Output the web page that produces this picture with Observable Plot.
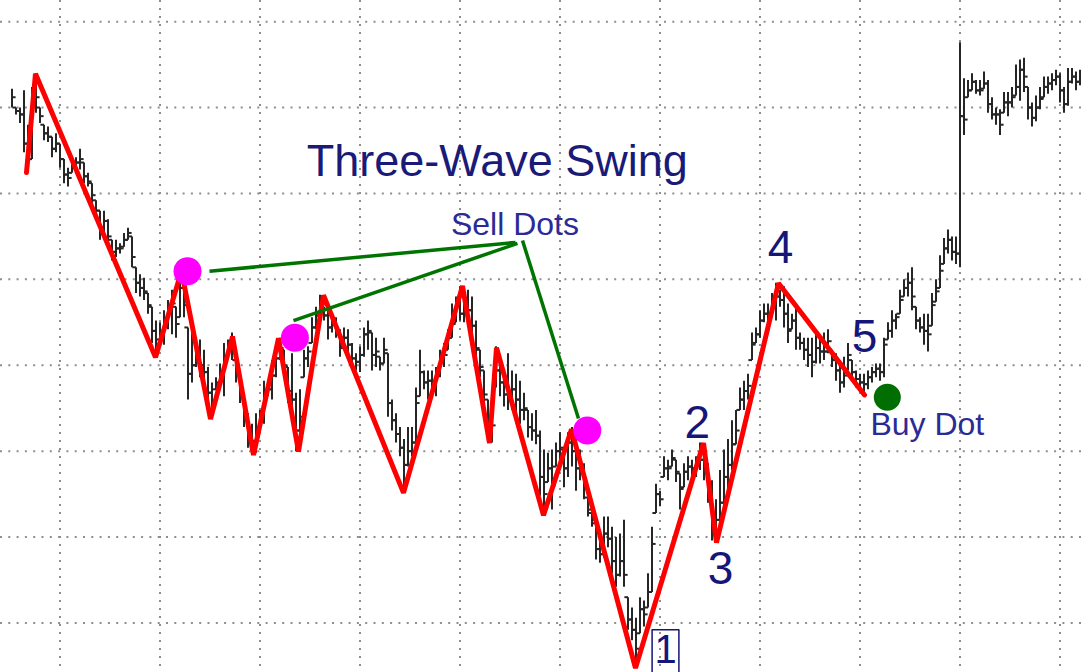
<!DOCTYPE html>
<html>
<head>
<meta charset="utf-8">
<script src="https://cdn.jsdelivr.net/npm/d3@7"></script>
<script src="https://cdn.jsdelivr.net/npm/@observablehq/plot@0.6"></script>
<style>
  html, body { margin: 0; padding: 0; background: #fff; overflow: hidden; }
  #chart svg { display: block; }
</style>
</head>
<body>
<div id="chart"></div>
<script>
// ---- price bars (one bar per session, index = position) ----
const high = [
76.1,75.0,75.0,76.0,74.0,76.2,77.0,75.0,74.0,73.9,
73.3,73.5,72.9,72.0,71.5,72.0,72.1,72.6,71.8,71.2,
70.6,69.6,69.0,69.0,68.5,67.3,67.3,67.1,67.7,68.0,
67.5,65.7,65.3,65.1,64.2,63.4,62.6,62.5,63.2,63.8,
64.4,63.4,65.5,64.8,62.2,61.9,61.6,61.5,60.9,59.9,
59.0,59.3,60.1,61.3,61.5,61.9,60.3,59.7,58.4,57.2,
56.6,57.2,57.4,59.1,59.0,60.3,61.1,61.6,60.9,59.9,
60.7,58.4,58.6,60.9,61.1,62.8,63.4,64.1,63.4,63.6,
63.0,62.8,62.1,62.2,62.1,61.3,60.7,61.1,62.2,62.6,
61.9,61.6,60.5,61.6,60.7,58.0,57.2,56.4,55.7,56.4,
56.4,58.7,60.9,59.7,59.7,59.7,59.9,60.9,61.3,62.1,
63.6,64.0,64.6,63.6,64.4,64.0,62.6,60.9,59.7,58.0,
57.0,61.1,60.1,59.3,60.7,59.7,59.5,59.1,58.4,57.4,
57.2,57.4,56.2,55.1,54.9,55.1,55.5,56.1,55.1,56.1,
56.4,55.7,55.1,54.3,52.3,51.4,50.8,49.8,51.2,51.2,
50.6,50.0,50.2,51.0,46.5,45.9,45.3,46.5,46.3,47.9,
50.6,53.1,52.7,54.7,54.5,55.1,54.5,53.7,54.3,54.7,
54.5,54.7,55.5,55.2,54.3,53.3,52.2,53.9,55.1,55.7,
56.8,57.4,58.7,59.1,59.5,61.9,62.2,63.2,63.6,63.6,
64.2,64.8,64.4,64.6,63.6,63.0,63.4,61.9,61.6,61.6,
61.6,61.9,61.6,61.9,62.1,60.9,60.7,60.3,60.5,61.3,
60.3,59.7,59.5,59.5,59.7,59.9,60.1,60.1,61.6,62.5,
63.2,63.0,64.4,65.0,65.4,65.7,63.4,62.8,63.0,63.0,
64.2,65.0,66.4,67.4,67.9,67.5,67.5,78.8,76.7,76.6,
77.0,76.6,76.6,77.1,76.6,75.6,75.0,74.9,75.9,75.9,
76.2,77.5,77.8,77.9,76.2,75.3,75.7,76.2,76.8,76.8,
77.0,77.2,77.0,76.2,77.3,77.3,77.1,77.2
];
const low = [
75.0,74.6,74.1,72.4,71.3,72.0,74.7,74.1,73.1,73.0,
72.1,72.4,71.5,70.6,70.4,71.2,71.5,71.4,70.6,70.4,
69.4,68.6,67.3,67.7,66.9,66.1,66.3,66.5,66.9,67.3,
65.7,64.2,64.0,63.8,63.0,61.3,60.5,61.5,61.2,62.1,
61.8,61.6,62.8,62.8,58.0,59.0,59.9,59.3,59.0,57.6,
56.9,58.6,59.0,58.2,60.5,60.3,59.0,57.8,56.4,55.2,
54.8,54.9,56.1,56.6,58.2,58.0,59.3,60.3,59.3,57.8,
57.2,55.0,55.8,59.3,59.9,61.3,62.1,62.8,62.6,61.5,
61.9,61.6,60.5,61.1,60.7,59.9,59.7,59.6,60.5,60.9,
59.7,59.9,59.7,60.1,57.0,56.2,55.5,54.7,52.7,54.1,
54.7,55.2,58.2,58.6,58.0,58.2,58.2,59.3,59.9,60.9,
61.6,62.5,62.6,62.5,62.6,61.6,60.5,59.3,57.8,55.5,
55.5,58.7,58.2,57.6,57.4,57.4,57.2,56.6,56.8,55.8,
55.6,55.4,52.4,51.4,53.2,51.6,54.1,53.9,52.9,53.5,
54.1,52.7,53.3,52.2,51.2,50.6,48.7,48.5,48.8,49.4,
47.9,47.1,47.7,47.1,44.6,44.0,42.4,44.4,44.8,45.9,
46.8,51.4,51.8,53.5,53.3,54.1,53.2,51.6,52.9,53.3,
53.5,53.5,53.9,53.3,52.0,49.8,49.8,50.4,51.6,52.7,
53.9,55.4,57.4,57.4,58.0,60.3,61.3,61.6,62.5,62.2,
62.8,62.6,63.4,62.2,61.3,62.1,60.9,60.9,60.3,59.9,
59.3,60.1,60.1,60.3,60.7,59.9,59.1,58.4,58.7,59.7,
59.1,58.7,58.6,58.3,58.6,59.0,59.3,59.1,59.3,61.5,
61.6,62.1,63.0,64.0,64.0,63.2,62.1,61.9,61.2,60.8,
62.3,63.7,64.5,65.9,66.5,66.1,65.9,65.7,73.4,75.6,
76.0,75.8,75.7,76.1,74.7,74.3,74.0,73.4,74.7,74.5,
75.0,75.7,75.4,75.9,74.3,73.9,74.2,74.9,75.6,75.8,
76.0,76.3,75.3,74.7,75.1,76.4,76.0,76.3
];
const close = [
75.6,74.8,74.6,72.9,72.0,75.5,75.6,74.5,73.5,73.3,
72.6,72.9,72.0,71.1,70.9,71.6,71.8,72.0,71.0,70.7,
69.9,69.0,68.0,68.4,67.5,66.6,66.8,66.8,67.3,67.7,
66.3,64.8,64.5,64.3,63.5,62.0,61.0,62.0,62.6,63.0,
63.6,62.4,64.5,63.5,59.5,60.0,60.5,60.0,59.6,58.4,
57.6,58.9,59.5,60.5,61.0,60.9,59.5,58.4,57.0,55.8,
55.6,55.8,56.7,58.0,58.6,59.4,60.4,61.0,60.0,58.5,
58.0,56.2,57.0,60.4,60.8,62.2,62.9,63.4,62.9,62.2,
62.4,62.0,61.0,61.6,61.2,60.4,60.2,60.6,61.8,62.0,
60.6,60.8,60.1,60.9,57.8,56.8,56.0,55.2,54.2,55.0,
55.5,57.8,59.6,59.0,59.1,58.8,59.4,60.3,60.6,61.6,
62.4,63.5,63.0,63.0,63.2,62.3,61.0,59.9,58.3,57.0,
56.5,59.7,59.0,58.3,58.0,58.6,58.0,57.4,57.5,56.4,
56.2,55.9,53.5,52.5,54.0,53.0,55.0,55.2,54.0,55.5,
55.0,54.0,54.0,52.8,51.6,51.0,49.3,49.0,50.2,49.9,
48.6,47.8,48.6,47.8,45.2,44.6,43.5,45.8,45.5,46.8,
49.6,52.5,52.2,54.0,54.0,54.6,53.8,52.8,53.8,54.1,
54.0,54.3,54.5,54.0,52.8,50.6,51.0,52.0,53.5,54.2,
55.4,56.2,58.0,58.5,58.8,61.2,61.8,62.6,63.0,62.8,
63.6,64.0,63.8,63.0,62.0,62.6,61.6,61.3,60.9,60.6,
60.2,61.0,60.8,60.8,61.4,60.3,59.7,59.0,59.4,60.6,
59.6,59.2,59.0,58.9,59.3,59.6,59.8,59.6,61.2,62.0,
62.6,62.8,63.8,64.5,64.8,64.0,62.6,62.2,62.0,61.8,
63.5,64.3,65.5,66.8,67.3,66.6,66.5,74.5,74.3,76.0,
76.5,76.0,76.0,76.4,75.2,74.6,74.6,74.0,75.3,75.3,
75.6,76.2,77.2,76.8,75.0,74.4,75.0,75.5,76.2,76.4,
76.6,76.8,76.0,75.2,76.5,76.8,76.5,76.7
];

// ---- red swing (zigzag) pivots: bar position, price ----
const swingPos   = [3.5, 5.75, 35.75, 42.25, 49.5, 55, 60.25, 66.5, 71.5, 77.75, 97.75, 112.5, 119.25, 121, 132.75, 139.75, 155.75, 172.75, 176, 191.5, 213];
const swingPrice = [71.25, 77.0, 60.5, 65.5, 56.9, 61.7, 54.8, 61.6, 55.0, 64.1, 52.6, 64.65, 55.5, 61.05, 51.3, 56.3, 42.4, 55.5, 49.7, 64.8, 58.3];

// ---- signal dots ----
const sellPos = [43.75, 70.6, 143.7];
const sellPrice = [65.5, 61.63, 56.23];
const buyPos = [218.7];
const buyPrice = [58.17];

// ---- pointer lines from "Sell Dots" label ----
const ptrFromPos = [49.25, 70.25, 127.5];
const ptrFromPrice = [65.5, 62.63, 67.29];
const ptrToPos = [125.75, 126.25, 141.5];
const ptrToPrice = [67.18, 67.12, 56.93];

// ---- labels ----
const labelText  = ["Three-Wave Swing", "Sell Dots", "Buy Dot", "2", "3", "4", "5", "1"];
const labelPos   = [121.2, 125.6, 228.7, 171.2, 177, 192, 213, 163.25];
const labelPrice = [71.91, 68.18, 56.54, 56.68, 48.18, 66.81, 61.63, 43.42];
const labelSize  = [45, 32, 32, 46, 46, 46, 46, 40];
const labelColor = ["#1a1a78", "#2b2b96", "#2b2b96", "#15157a", "#15157a", "#15157a", "#15157a", "#15157a"];

// box around wave "1"
const boxPos = [159.9, 159.9, 166.6, 166.6];
const boxPrice = [41.8, 44.63, 44.63, 41.8];

// grid
const gridPrices = [45, 50, 55, 60, 65, 70, 75, 80];
const gridBars = [12, 37, 62, 87, 112, 137, 162, 187, 212, 237, 262];

// ---- build tables ----
const bars = high.map((h, i) => {
  const prev = i > 0 ? close[i - 1] : null;
  const open = prev == null ? null : Math.max(low[i], Math.min(h, prev));
  return {i, high: h, low: low[i], close: close[i], open};
});
const swing = swingPos.map((x, k) => ({x, y: swingPrice[k]}));
const sells = sellPos.map((x, k) => ({x, y: sellPrice[k]}));
const buys = buyPos.map((x, k) => ({x, y: buyPrice[k]}));
const ptrs = ptrFromPos.map((x, k) => ({x1: x, y1: ptrFromPrice[k], x2: ptrToPos[k], y2: ptrToPrice[k]}));
const labels = labelText.map((t, k) => ({t, x: labelPos[k], y: labelPrice[k], s: labelSize[k], c: labelColor[k]}));
const box = boxPos.map((x, k) => ({x, y: boxPrice[k]}));

const font = "'Liberation Sans', Arial, Helvetica, sans-serif";
const barColor = "#262626";

const plot = Plot.plot({
  width: 1081,
  height: 672,
  margin: 0,
  style: {background: "#fff", overflow: "hidden"},
  x: {domain: [-3, 267.25], axis: null},
  y: {domain: [42.145, 81.26], axis: null},
  marks: [
    Plot.ruleY(gridPrices, {stroke: "#8e8e8e", strokeWidth: 2, strokeDasharray: "2,6.3", dy: -0.5}),
    Plot.ruleX(gridBars, {stroke: "#8e8e8e", strokeWidth: 2, strokeDasharray: "2,6", dx: -0.5}),
    Plot.ruleX(bars, {x: "i", y1: "low", y2: "high", stroke: barColor, strokeWidth: 2, dx: -0.5}),
    Plot.ruleY(bars, {y: "close", x1: "i", x2: d => d.i + 0.9, stroke: barColor, strokeWidth: 2, dy: -0.5}),
    Plot.ruleY(bars.filter(d => d.open != null), {y: "open", x1: d => d.i - 0.9, x2: "i", stroke: barColor, strokeWidth: 2, dy: -0.5}),
    Plot.line(swing, {x: "x", y: "y", stroke: "#ff0000", strokeWidth: 5, strokeLinejoin: "miter"}),
    Plot.link(ptrs, {x1: "x1", y1: "y1", x2: "x2", y2: "y2", stroke: "#007400", strokeWidth: 3.5}),
    Plot.dot(sells, {x: "x", y: "y", r: 14, fill: "#ff00ff"}),
    Plot.dot(buys, {x: "x", y: "y", r: 13.5, fill: "#006e00"}),
    Plot.line(box, {x: "x", y: "y", stroke: "#15157a", strokeWidth: 1.5}),
    Plot.text(labels, {x: "x", y: "y", text: "t", fontSize: d => d.s, fill: "c", fontFamily: font})
  ]
});
document.getElementById("chart").appendChild(plot);
</script>
</body>
</html>
